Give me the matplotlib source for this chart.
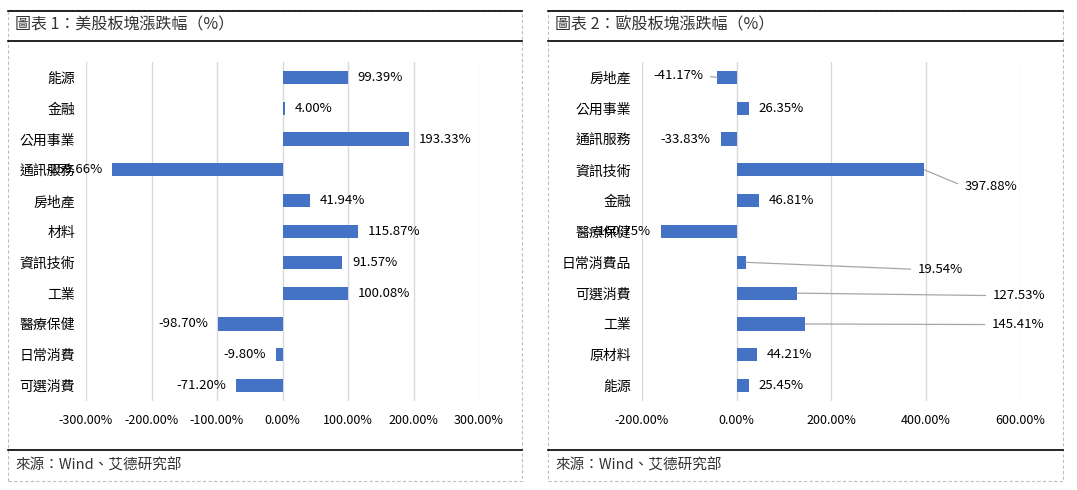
import matplotlib
matplotlib.use("Agg")
import matplotlib.pyplot as plt
from matplotlib.patches import Rectangle
from matplotlib.lines import Line2D
from matplotlib.ticker import FuncFormatter

plt.rcParams['font.family'] = ['Noto Sans CJK TC', 'DejaVu Sans']

# data
us_sectors = ['能源', '金融', '公用事業', '通訊服務', '房地產', '材料',
              '資訊技術', '工業', '醫療保健', '日常消費', '可選消費']
us_values = [99.39, 4.00, 193.33, -259.66, 41.94, 115.87,
             91.57, 100.08, -98.70, -9.80, -71.20]
us_ticks = [-300, -200, -100, 0, 100, 200, 300]

eu_sectors = ['房地產', '公用事業', '通訊服務', '資訊技術', '金融', '醫療保健',
              '日常消費品', '可選消費', '工業', '原材料', '能源']
eu_values = [-41.17, 26.35, -33.83, 397.88, 46.81, -160.75,
             19.54, 127.53, 145.41, 44.21, 25.45]
eu_ticks = [-200, 0, 200, 400, 600]

# labels that were moved away from their bars, with leader lines (x, y in data units)
eu_moved = {0: (-70, -0.06, 'right'), 3: (482, 3.54, 'left'), 6: (383, 6.23, 'left'),
            7: (542, 7.08, 'left'), 8: (540, 8.02, 'left')}

# fullwidth colon / parentheses as in the original
COLON, LP, RP = '\uff1a', '\uff08', '\uff09'
title1 = '圖表 1' + COLON + '美股板塊漲跌幅' + LP + '%' + RP
title2 = '圖表 2' + COLON + '歐股板塊漲跌幅' + LP + '%' + RP
source = '來源' + COLON + 'Wind、艾德研究部'

BAR = '#4472C4'
W, H = 1077, 490
fig = plt.figure(figsize=(W / 100, H / 100), dpi=100)


def fx(px):
    return px / W


def fy(py):
    return 1 - py / H


def panel(x0, x1, title):
    # dashed frame
    fig.add_artist(Rectangle((fx(x0), fy(481)), fx(x1 - x0), (481 - 10) / H,
                             fill=False, ec='#BFBFBF', lw=0.8, ls=(0, (3, 2)),
                             transform=fig.transFigure))
    for py in (11, 41, 450):
        fig.add_artist(Line2D([fx(x0), fx(x1)], [fy(py), fy(py)], color='black',
                              lw=1.2, transform=fig.transFigure))
    fig.text(fx(x0 + 7), fy(25), title, fontsize=11.5, color='#333333', va='center')
    fig.text(fx(x0 + 7), fy(465), source, fontsize=10.5,
             color='#333333', va='center')


def bars(ax, cats, vals, ticks, moved=None):
    moved = moved or {}
    y = range(len(cats))
    ax.barh(y, vals, height=0.43, color=BAR, zorder=3)
    ax.set_ylim(len(cats) - 0.5, -0.5)
    ax.set_xlim(ticks[0], ticks[-1])
    ax.set_yticks(list(y))
    ax.set_yticklabels(cats, fontsize=10)
    ax.set_xticks(ticks)
    ax.xaxis.set_major_formatter(FuncFormatter(lambda v, p: f'{v:.2f}%'))
    ax.tick_params(axis='x', labelsize=9, length=0, pad=9)
    ax.tick_params(axis='y', length=0, pad=8)
    ax.grid(axis='x', color='#D9D9D9', lw=1)
    ax.set_axisbelow(True)
    for s in ax.spines.values():
        s.set_visible(False)
    for i, v in enumerate(vals):
        txt = f'{v:.2f}%'
        if i in moved:
            tx, ty, ha = moved[i]
            ax.annotate(txt, xy=(v, i), xytext=(tx, ty), ha=ha, va='center',
                        fontsize=9.5, annotation_clip=False,
                        arrowprops=dict(arrowstyle='-', color='#A6A6A6', lw=0.9,
                                        shrinkA=3, shrinkB=0,
                                        relpos=(0, 0.5) if ha == 'left' else (1, 0.5)))
        else:
            off = 7 if v >= 0 else -7
            ax.annotate(txt, xy=(v, i), xytext=(off, 0), textcoords='offset points',
                        ha='left' if v >= 0 else 'right', va='center', fontsize=9.5,
                        annotation_clip=False)


panel(8, 522, title1)
panel(548, 1063, title2)

ax1 = fig.add_axes([fx(86), fy(401), fx(479 - 86), (401 - 62) / H])
bars(ax1, us_sectors, us_values, us_ticks)

ax2 = fig.add_axes([fx(642), fy(401), fx(1020 - 642), (401 - 62) / H])
bars(ax2, eu_sectors, eu_values, eu_ticks, eu_moved)

fig.savefig('out.png', dpi=100)
